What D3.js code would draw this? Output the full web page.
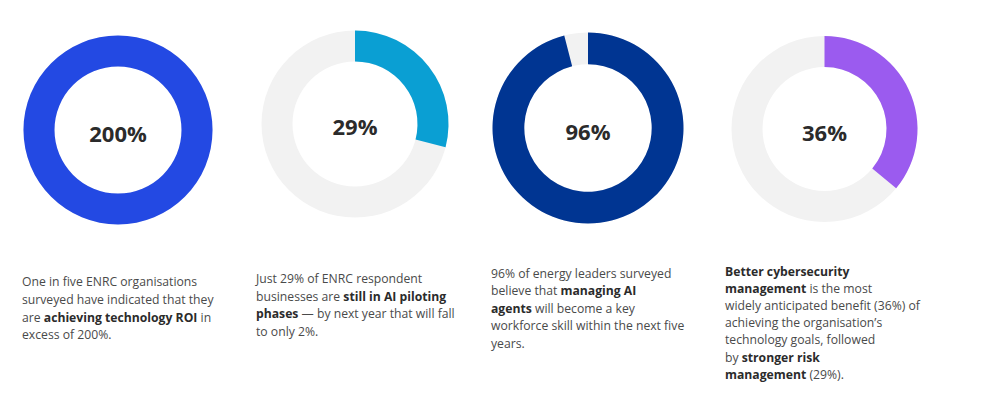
<!DOCTYPE html>
<html><head><meta charset="utf-8">
<script src="https://cdn.jsdelivr.net/npm/d3@7"></script>
<style>
html,body{margin:0;padding:0;background:#fff;}
svg{display:block;font-family:"Open Sans",sans-serif;}
</style></head>
<body><svg id="c" width="1000" height="393"></svg>
<script>
// ---- data ----
const labels = ["200%", "29%", "96%", "36%"];
const values = [200, 29, 96, 36];
const colors = ["#2349e3", "#0a9fd3", "#003592", "#9b5bef"];
const trackColor = "#f2f2f2";
const captions = [
  [[["One in five ENRC organisations",0]],
   [["surveyed have indicated that they",0]],
   [["are ",0],["achieving technology ROI",1],[" in",0]],
   [["excess of 200%.",0]]],
  [[["Just 29% of ENRC respondent",0]],
   [["businesses are ",0],["still in AI piloting",1]],
   [["phases",1],[" \u2014 by next year that will fall",0]],
   [["to only 2%.",0]]],
  [[["96% of energy leaders surveyed",0]],
   [["believe that ",0],["managing AI",1]],
   [["agents",1],[" will become a key",0]],
   [["workforce skill within the next five",0]],
   [["years.",0]]],
  [[["Better cybersecurity",1]],
   [["management",1],[" is the most",0]],
   [["widely anticipated benefit (36%) of",0]],
   [["achieving the organisation\u2019s",0]],
   [["technology goals, followed",0]],
   [["by ",0],["stronger risk",1]],
   [["management",1],[" (29%).",0]]]
];

// ---- layout ----
const centers = [[118,130],[355,124],[588,128],[824.5,129]];
const outerR = [94.5, 93.5, 95.5, 93];
const innerR = [63.5, 62.5, 63.7, 62];
const textX = [22, 256, 491, 725];
const textY = [286, 283, 278, 276];
const lineH = [17.8, 17.6, 17.4, 17.1];

const svg = d3.select("#c");
const frac = d3.scaleLinear().domain([0,100]).range([0, 2*Math.PI]).clamp(true);

values.forEach((v,i) => {
  const g = svg.append("g").attr("transform", `translate(${centers[i][0]},${centers[i][1]})`);
  const arc = d3.arc().innerRadius(innerR[i]).outerRadius(outerR[i]);
  g.append("path").attr("d", arc({startAngle:0,endAngle:2*Math.PI})).attr("fill", trackColor);
  g.append("path").attr("d", arc({startAngle:0,endAngle:frac(v)})).attr("fill", colors[i]);
  g.append("text").attr("text-anchor","middle").attr("dy","0.36em")
    .attr("y", i===1 ? 3 : 4)
    .attr("font-size", 22).attr("font-weight", 700).attr("fill", "#2b2b2b")
    .text(labels[i]);

  const t = svg.append("text").attr("font-size", 12.2).attr("fill", "#4a4a4a");
  captions[i].forEach((line, li) => {
    line.forEach((seg, si) => {
      const ts = t.append("tspan").text(seg[0])
        .attr("font-weight", seg[1] ? 700 : 400)
        .attr("fill", seg[1] ? "#2b2b2b" : "#4a4a4a");
      if (si === 0) ts.attr("x", textX[i]).attr("y", textY[i] + li*lineH[i]);
    });
  });
});
</script></body></html>
